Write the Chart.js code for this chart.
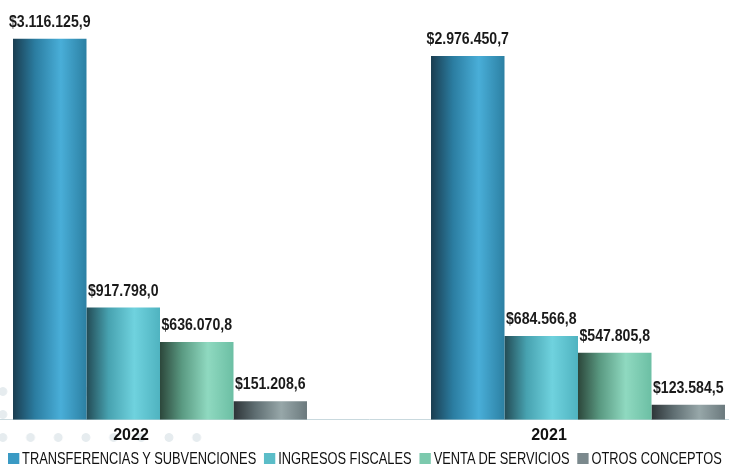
<!DOCTYPE html>
<html>
<head>
<meta charset="utf-8">
<script src="https://cdn.jsdelivr.net/npm/chart.js@4.4.0/dist/chart.umd.min.js"></script>
<style>
  html, body { margin: 0; padding: 0; background: #fff; overflow: hidden; }
  body { width: 729px; height: 468px; position: relative; }
  #dots {
    position: absolute; left: -10.85px; top: 379.5px; width: 221.6px; height: 69px;
    background-image: radial-gradient(circle, #e6ecef 4px, rgba(255,255,255,0) 4.8px);
    background-size: 27.7px 23px;
  }
  #wrap { position: absolute; left: -49px; top: 0; width: 836px; height: 451px; }
  #leyenda {
    position: absolute; left: 8px; top: 449px; white-space: nowrap;
    font-family: 'Liberation Sans', Arial, sans-serif;
    font-size: 17px; color: #111; line-height: 19px;
    transform: scaleX(0.755); transform-origin: 0 0;
  }
  #leyenda span.item { margin-right: 10.6px; }
  #leyenda span.box { display: inline-block; width: 14.6px; height: 11px; margin-right: 4px; }
</style>
</head>
<body>
<div id="dots"></div>
<div id="wrap"><canvas id="ingresos"></canvas></div>
<div id="leyenda"></div>
<script>
// datos
const anios = ['2022', '2021'];
const series = ['TRANSFERENCIAS Y SUBVENCIONES', 'INGRESOS FISCALES', 'VENTA DE SERVICIOS', 'OTROS CONCEPTOS'];
const transferencias = [3116125.9, 2976450.7];
const ingresosFiscales = [917798.0, 684566.8];
const ventaServicios = [636070.8, 547805.8];
const otrosConceptos = [151208.6, 123584.5];

// colores (degradado de izquierda a derecha de cada barra)
const degradados = [
    ['#1a3d50', '#2b7da1', '#49aed8', '#2c80a3'],
    ['#234b55', '#47a2b0', '#6fd2de', '#4fb3c0'],
    ['#2c473b', '#5a9a82', '#8fd9c0', '#6cbfa4'],
    ['#2d3437', '#5f6e72', '#97a7a9', '#6b797d']
];
const coloresLeyenda = ['#3a9ac4', '#5bbdc8', '#7cc9ad', '#7b898d'];

function formato(v) {
    const partes = v.toFixed(1).split('.');
    return '$' + partes[0].replace(/\B(?=(\d{3})+(?!\d))/g, '.') + ',' + partes[1];
}

const fuente = "'Liberation Sans', Arial, sans-serif";

// pinta el degradado horizontal de cada barra
const pluginDegradado = {
    id: 'degradado',
    beforeDatasetsDraw(chart) {
        const ctx = chart.ctx;
        chart.data.datasets.forEach((ds, i) => {
            const meta = chart.getDatasetMeta(i);
            meta.data.forEach(el => {
                const x0 = el.x - el.width / 2;
                const x1 = el.x + el.width / 2;
                const g = ctx.createLinearGradient(x0, 0, x1, 0);
                const c = degradados[i];
                g.addColorStop(0, c[0]);
                g.addColorStop(0.3, c[1]);
                g.addColorStop(0.65, c[2]);
                g.addColorStop(1, c[3]);
                el.options = Object.assign({}, el.options, { backgroundColor: g });
            });
        });
    }
};

// etiquetas de valor encima de cada barra (letra angosta)
const pluginEtiquetas = {
    id: 'etiquetas',
    afterDatasetsDraw(chart) {
        const ctx = chart.ctx;
        chart.data.datasets.forEach((ds, i) => {
            chart.getDatasetMeta(i).data.forEach((el, j) => {
                ctx.save();
                ctx.font = 'bold 17px ' + fuente;
                ctx.fillStyle = '#1a1a1a';
                ctx.textAlign = 'center';
                ctx.textBaseline = 'alphabetic';
                ctx.translate(el.x, el.y - 12);
                ctx.scale(0.83, 1);
                ctx.fillText(formato(ds.data[j]), 0, 0);
                ctx.restore();
            });
        });
    }
};

const ingresos = new Chart(document.getElementById('ingresos'), {
    type: 'bar',
    data: {
        labels: anios,
        datasets: [
            { label: series[0], data: transferencias, backgroundColor: coloresLeyenda[0] },
            { label: series[1], data: ingresosFiscales, backgroundColor: coloresLeyenda[1] },
            { label: series[2], data: ventaServicios, backgroundColor: coloresLeyenda[2] },
            { label: series[3], data: otrosConceptos, backgroundColor: coloresLeyenda[3] }
        ]
    },
    options: {
        responsive: true,
        maintainAspectRatio: false,
        animation: false,
        categoryPercentage: 0.7033,
        barPercentage: 1,
        layout: { padding: 0 },
        plugins: {
            legend: { display: false },
            tooltip: { enabled: false }
        },
        scales: {
            x: {
                grid: { display: false, drawTicks: false },
                border: { display: true, color: '#c9d9de', width: 1 },
                ticks: {
                    color: '#111',
                    font: { family: fuente, size: 16, weight: 'bold' },
                    padding: 6,
                    labelOffset: -29
                }
            },
            y: {
                display: false,
                min: 0,
                max: 3434000
            }
        }
    },
    plugins: [pluginDegradado, pluginEtiquetas]
});

// leyenda en html
const leyenda = document.getElementById('leyenda');
series.forEach((s, i) => {
    const item = document.createElement('span');
    item.className = 'item';
    const box = document.createElement('span');
    box.className = 'box';
    box.style.background = coloresLeyenda[i];
    item.appendChild(box);
    item.appendChild(document.createTextNode(s));
    leyenda.appendChild(item);
});
</script>
</body>
</html>
